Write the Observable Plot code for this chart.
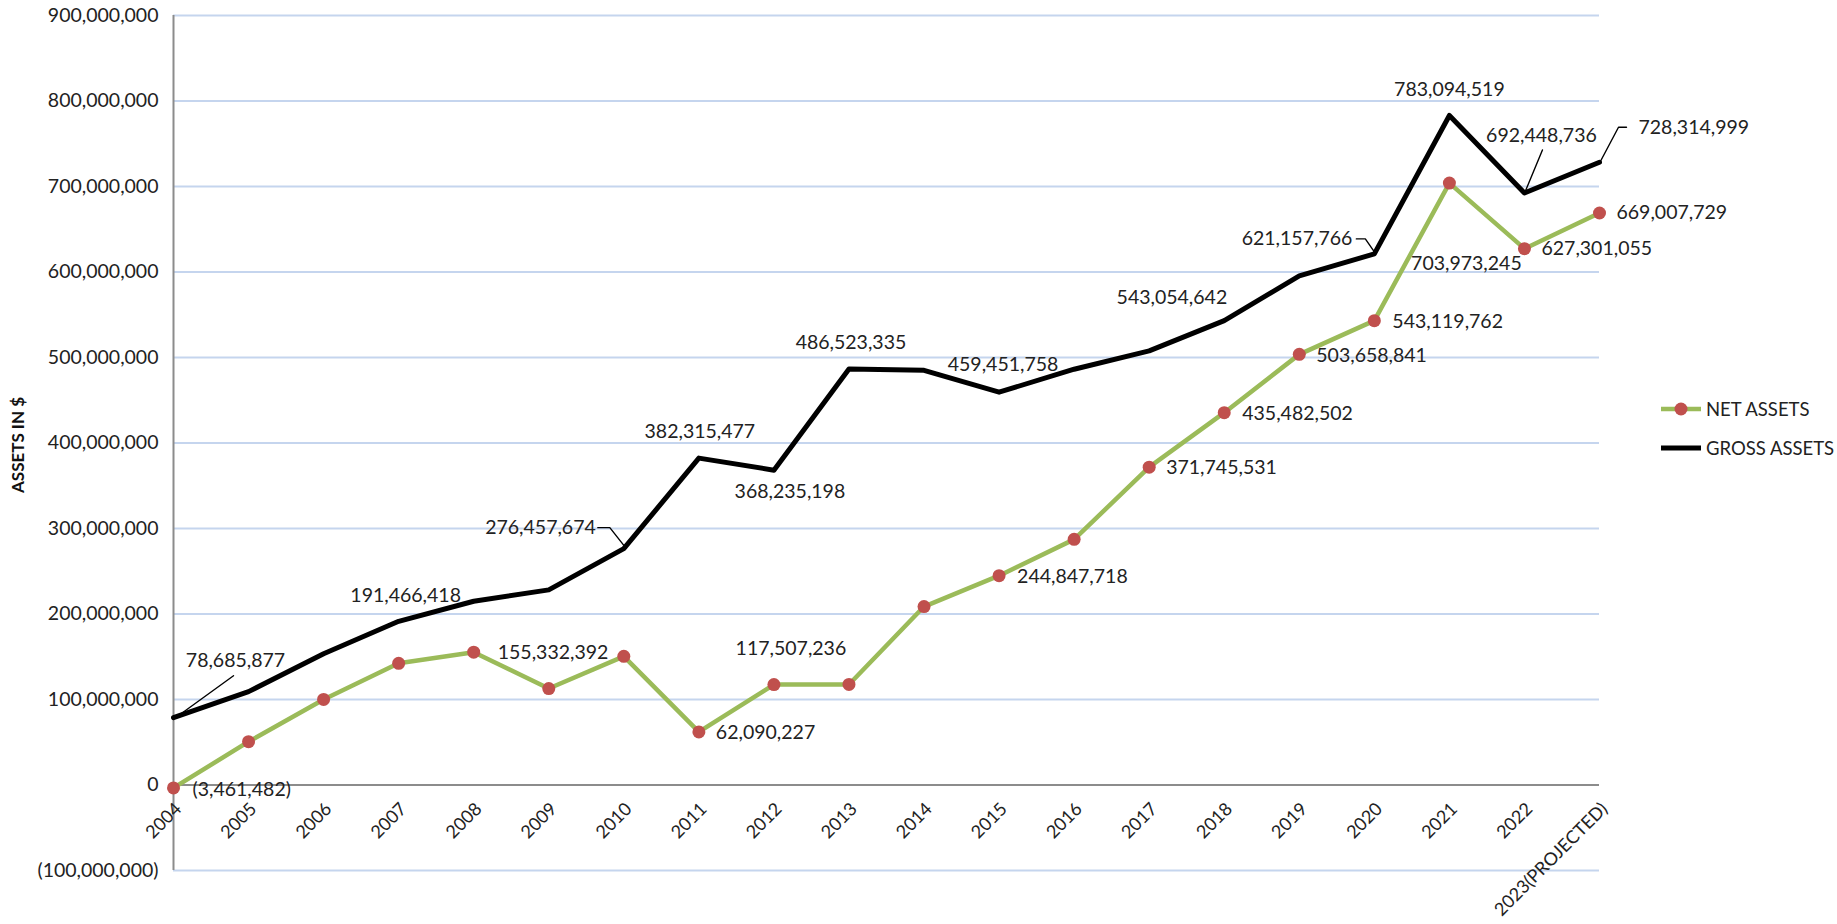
<!DOCTYPE html>
<html><head><meta charset="utf-8">
<script src="https://cdn.jsdelivr.net/npm/d3@7"></script>
<script src="https://cdn.jsdelivr.net/npm/@observablehq/plot@0.6"></script>
<style>
html,body{margin:0;padding:0;background:#fff;}
#wrap{position:relative;width:1837px;height:924px;font-family:Lato,"Open Sans",sans-serif;color:#222;}
.legend{position:absolute;left:1660px;top:389px;font-size:18.5px;}
.item{display:flex;align-items:center;height:39px;white-space:nowrap;}
.item svg{margin-right:4px;}
</style></head><body><div id="wrap"></div>
<script>
// ---- data ----
const years = ["2004","2005","2006","2007","2008","2009","2010","2011","2012","2013","2014","2015","2016","2017","2018","2019","2020","2021","2022","2023(PROJECTED)"];
const netAssets = [-3461482, 50700000, 100100000, 142300000, 155332392, 112800000, 150500000, 62090227, 117507236, 117600000, 208700000, 244847718, 287300000, 371745531, 435482502, 503658841, 543119762, 703973245, 627301055, 669007729];
const grossAssets = [78685877, 109200000, 153500000, 191466418, 214900000, 228200000, 276457674, 382315477, 368235198, 486523335, 485000000, 459451758, 486300000, 507800000, 543054642, 595400000, 621157766, 783094519, 692448736, 728314999];
const yTicks = [-100000000, 0, 100000000, 200000000, 300000000, 400000000, 500000000, 600000000, 700000000, 800000000, 900000000];
const seriesNames = ["NET ASSETS", "GROSS ASSETS"];
const yTitle = "ASSETS IN $";

// ---- layout ----
const W = 1837, H = 924, ML = 173, MR = 238, MT = 15, MB = 54;
const yDomain = [-100000000, 900000000];
const pxX = (W - ML - MR) / (years.length - 1);
const pxY = (H - MT - MB) / (yDomain[1] - yDomain[0]);

const fmtN = d3.format(",");
const fmt = v => v === 0 ? "0" : v < 0 ? `(${fmtN(-v)})` : fmtN(v);

const rows = years.map((year, i) => ({i, year, net: netAssets[i], gross: grossAssets[i]}));

// label placement (pixel offsets from the data point)
const grossPlace = [
  {i:0, a:"middle", dx:62, dy:-57},
  {i:3, a:"middle", dx:7, dy:-26},
  {i:6, a:"end", dx:-28, dy:-21},
  {i:7, a:"middle", dx:1, dy:-26},
  {i:8, a:"middle", dx:16, dy:22},
  {i:9, a:"middle", dx:2, dy:-26},
  {i:11, a:"middle", dx:4, dy:-27},
  {i:14, a:"end", dx:3, dy:-23},
  {i:16, a:"end", dx:-22, dy:-15},
  {i:17, a:"middle", dx:0, dy:-26},
  {i:18, a:"middle", dx:17, dy:-57},
  {i:19, a:"start", dx:39, dy:-35}
];
const netPlace = [
  {i:0, a:"start", dx:19, dy:2},
  {i:4, a:"start", dx:24, dy:1},
  {i:7, a:"start", dx:17, dy:1},
  {i:8, a:"middle", dx:17, dy:-36},
  {i:11, a:"start", dx:18, dy:1},
  {i:13, a:"start", dx:17, dy:1},
  {i:14, a:"start", dx:18, dy:1},
  {i:15, a:"start", dx:17, dy:1},
  {i:16, a:"start", dx:18, dy:1},
  {i:17, a:"middle", dx:17, dy:81},
  {i:18, a:"start", dx:17, dy:0},
  {i:19, a:"start", dx:17, dy:0}
];
const leaderDefs = [
  {i:0, pts:[[2,0],[60,-42]]},
  {i:6, pts:[[-26,-21],[-14,-21],[1,-2]]},
  {i:16, pts:[[-18,-15],[-9,-15],[0,-2]]},
  {i:18, pts:[[18,-43],[1,-2]]},
  {i:19, pts:[[27,-35],[19,-35],[1,-1]]}
];
const leaderPts = leaderDefs.flatMap((l, k) => l.pts.map(([ox, oy]) => ({
  id: k, x: l.i + ox / pxX, y: grossAssets[l.i] - oy / pxY
})));

const labelMarks = [];
for (const p of grossPlace) {
  labelMarks.push(Plot.text([rows[p.i]], {x:"i", y:"gross", text: d => fmt(d.gross), textAnchor:p.a, dx:p.dx, dy:p.dy, fill:"#222"}));
}
for (const p of netPlace) {
  labelMarks.push(Plot.text([rows[p.i]], {x:"i", y:"net", text: d => fmt(d.net), textAnchor:p.a, dx:p.dx, dy:p.dy, fill:"#222"}));
}

const chart = Plot.plot({
  width: W, height: H,
  marginLeft: ML, marginRight: MR, marginTop: MT, marginBottom: MB,
  style: {fontFamily: "Lato, 'Open Sans', sans-serif", fontSize: "19.5px", color: "#222", background: "#fff", overflow: "visible"},
  x: {type: "linear", domain: [0, years.length - 1], axis: null},
  y: {domain: yDomain, ticks: yTicks, tickFormat: fmt, tickSize: 0, tickPadding: 15, label: null},
  marks: [
    Plot.ruleY(yTicks.filter(v => v !== 0), {stroke: "#c5d5ee", strokeWidth: 2}),
    Plot.ruleY([0], {stroke: "#8c8c8c", strokeWidth: 2}),
    Plot.ruleX([0], {stroke: "#8c8c8c", strokeWidth: 2}),
    Plot.line(leaderPts, {x: "x", y: "y", z: "id", stroke: "#000", strokeWidth: 1.4}),
    Plot.line(rows, {x: "i", y: "gross", stroke: "#000", strokeWidth: 5, strokeLinejoin: "round"}),
    Plot.line(rows, {x: "i", y: "net", stroke: "#9bbb59", strokeWidth: 4.5, strokeLinejoin: "round"}),
    Plot.dot(rows, {x: "i", y: "net", r: 6.5, fill: "#c0504d", stroke: null}),
    ...labelMarks,
    Plot.text(rows, {x: "i", y: () => 0, text: "year", rotate: -45, textAnchor: "end", dx: 5, dy: 21, fontSize: 18, fill: "#222"}),
    Plot.text([yTitle], {frameAnchor: "left", text: d => d, rotate: -90, textAnchor: "middle", dx: -155, dy: 2, fontWeight: "bold", fontSize: 17, fill: "#111"})
  ]
});

const wrap = document.getElementById("wrap");
wrap.appendChild(chart);

const legend = document.createElement("div");
legend.className = "legend";
legend.innerHTML = `
<div class="item"><svg width="42" height="16"><line x1="1" y1="8" x2="41" y2="8" stroke="#9bbb59" stroke-width="4.5"/><circle cx="21" cy="8" r="6.5" fill="#c0504d"/></svg><span>${seriesNames[0]}</span></div>
<div class="item"><svg width="42" height="16"><line x1="1" y1="8" x2="41" y2="8" stroke="#000" stroke-width="5"/></svg><span>${seriesNames[1]}</span></div>`;
wrap.appendChild(legend);
</script>
</body></html>
